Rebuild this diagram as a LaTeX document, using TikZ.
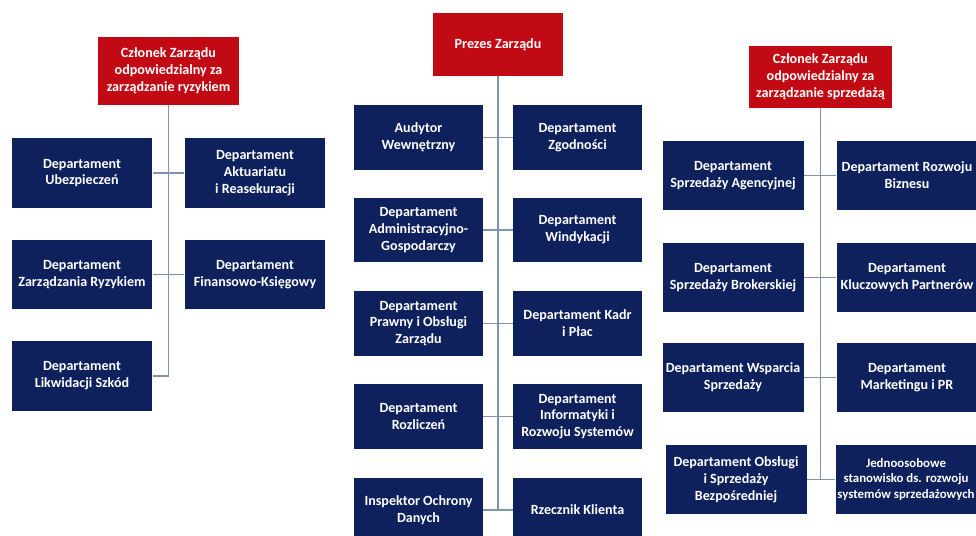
\documentclass[tikz,border=0pt]{standalone}
\usepackage{fontspec}
\setmainfont{Carlito}
\usepackage{xcolor}
\usepackage{tikz}
\usetikzlibrary{calc,positioning}
\definecolor{navyx}{HTML}{0F215C}
\definecolor{redx}{HTML}{C20A14}
\definecolor{linex}{HTML}{8094AE}
\tikzset{
  dept/.style={fill=navyx,text=white,align=center,inner sep=1pt,
    font=\bfseries\fontsize{8}{9.6}\selectfont},
  boss/.style={dept,fill=redx},
  wide/.style={minimum width=2.82cm,minimum height=1.39cm},
  mid/.style={minimum width=2.58cm,minimum height=1.29cm},
  ln/.style={linex,line width=0.9pt}
}

\begin{document}
\begin{tikzpicture}[x=0.02cm,y=-0.02cm]
\useasboundingbox (0,0) rectangle (976,536);
% left: ryzyko
\node[boss,minimum width=2.82cm,minimum height=1.36cm] (rb) at (168.5,71) {Członek Zarządu\\odpowiedzialny za\\zarządzanie ryzykiem};
\node[dept,wide] (ubez) at (82,173) {Departament\\Ubezpieczeń};
\node[dept,wide] (akt) at (255,173) {Departament\\Aktuariatu\\i Reasekuracji};
\node[dept,wide] (zrr) at (82,274.5) {Departament\\Zarządzania Ryzykiem};
\node[dept,wide] (fin) at (255,274.5) {Departament\\Finansowo-Księgowy};
\node[dept,wide] (lik) at (82,376) {Departament\\Likwidacji Szkód};
% centre: prezes
\node[boss,minimum width=2.6cm,minimum height=1.26cm] (pz) at (498,44.5) {Prezes Zarządu};
\node[dept,mid] (aud) at (418.5,137.5) {Audytor\\Wewnętrzny};
\node[dept,mid] (zgo) at (577.5,137.5) {Departament\\Zgodności};
\node[dept,mid] (adm) at (418.5,230) {Departament\\Administracyjno-\\Gospodarczy};
\node[dept,mid] (win) at (577.5,230) {Departament\\Windykacji};
\node[dept,mid] (pra) at (418.5,323.5) {Departament\\Prawny i Obsługi\\Zarządu};
\node[dept,mid] (kad) at (577.5,323.5) {Departament Kadr\\i Płac};
\node[dept,mid] (roz) at (418.5,416.5) {Departament\\Rozliczeń};
\node[dept,mid] (inf) at (577.5,416.5) {Departament\\Informatyki i\\Rozwoju Systemów};
\node[dept,mid] (iod) at (418.5,510) {Inspektor Ochrony\\Danych};
\node[dept,mid] (rzk) at (577.5,510) {Rzecznik Klienta};
% right: sprzedaz
\node[boss,minimum width=2.86cm,minimum height=1.24cm] (sb) at (820.5,77) {Członek Zarządu\\odpowiedzialny za\\zarządzanie sprzedażą};
\node[dept,wide] (age) at (733,175.5) {Departament\\Sprzedaży Agencyjnej};
\node[dept,wide] (biz) at (907,175.5) {Departament Rozwoju\\Biznesu};
\node[dept,wide] (bro) at (733,277.5) {Departament\\Sprzedaży Brokerskiej};
\node[dept,wide] (klu) at (907,277.5) {Departament\\Kluczowych Partnerów};
\node[dept,wide] (wsp) at (733,377.5) {Departament Wsparcia\\Sprzedaży};
\node[dept,wide] (mar) at (907,377.5) {Departament\\Marketingu i PR};
\node[dept,wide] (obs) at (736,479.5) {Departament Obsługi\\i Sprzedaży\\Bezpośredniej};
\node[dept,wide,font=\bfseries\fontsize{7.3}{9}\selectfont] (jed) at (906,479.5) {Jednoosobowe\\stanowisko ds. rozwoju\\systemów sprzedażowych};
% connectors
\coordinate (rend) at (rb.south |- lik.east);
\draw[ln] (rb.south) -- (rend);
\draw[ln] (lik.east) -- (rend);
\foreach \a/\b in {ubez/akt,zrr/fin}{\draw[ln] (\a.east) -- (\b.west);}
\draw[ln] (pz.south) -- (pz.south |- iod.east);
\foreach \a/\b in {aud/zgo,adm/win,pra/kad,roz/inf,iod/rzk}{\draw[ln] (\a.east) -- (\b.west);}
\draw[ln] (sb.south) -- (sb.south |- obs.east);
\foreach \a/\b in {age/biz,bro/klu,wsp/mar,obs/jed}{\draw[ln] (\a.east) -- (\b.west);}
\end{tikzpicture}
\end{document}
